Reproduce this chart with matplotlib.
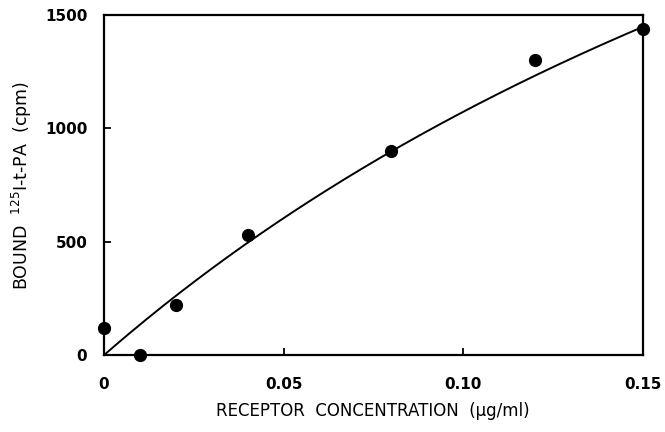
import numpy as np
import matplotlib.pyplot as plt

# measured binding
conc = [0.0, 0.01, 0.02, 0.04, 0.08, 0.12, 0.15]
bound = [120, 0, 220, 530, 900, 1300, 1440]

# fitted saturation curve
bmax = 4800
kd = 0.347

plt.rcParams["font.family"] = ["DejaVu Sans"]

fig = plt.figure(figsize=(6.65, 4.32), dpi=100)
ax = fig.add_axes([0.1564, 0.178, 0.8106, 0.787])

xs = np.linspace(0, 0.15, 200)
ax.plot(xs, bmax * xs / (kd + xs), color="black", linewidth=1.4)
ax.plot(conc, bound, "o", color="black", markersize=8.5, clip_on=False, zorder=5)

ax.set_xlim(0, 0.15)
ax.set_ylim(0, 1500)
ax.set_xticks([0, 0.05, 0.10, 0.15])
ax.set_xticklabels(["0", "0.05", "0.10", "0.15"], fontweight="bold", fontsize=11)
ax.set_yticks([0, 500, 1000, 1500])
ax.set_yticklabels(["0", "500", "1000", "1500"], fontweight="bold", fontsize=11)
ax.tick_params(direction="in", length=5, width=1.3)
ax.tick_params(axis="x", pad=16)
ax.tick_params(axis="y", pad=12)
for s in ax.spines.values():
    s.set_linewidth(1.6)

fig.text(373 / 665, 1 - 411 / 432, "RECEPTOR  CONCENTRATION  (\u03bcg/ml)",
         fontsize=12, ha="center", va="center")
fig.text(22 / 665, 1 - 186 / 432, "BOUND  $^{125}$I-t-PA  (cpm)",
         fontsize=12.5, ha="center", va="center", rotation=90)

plt.savefig("out.png", dpi=100)
plt.close()
